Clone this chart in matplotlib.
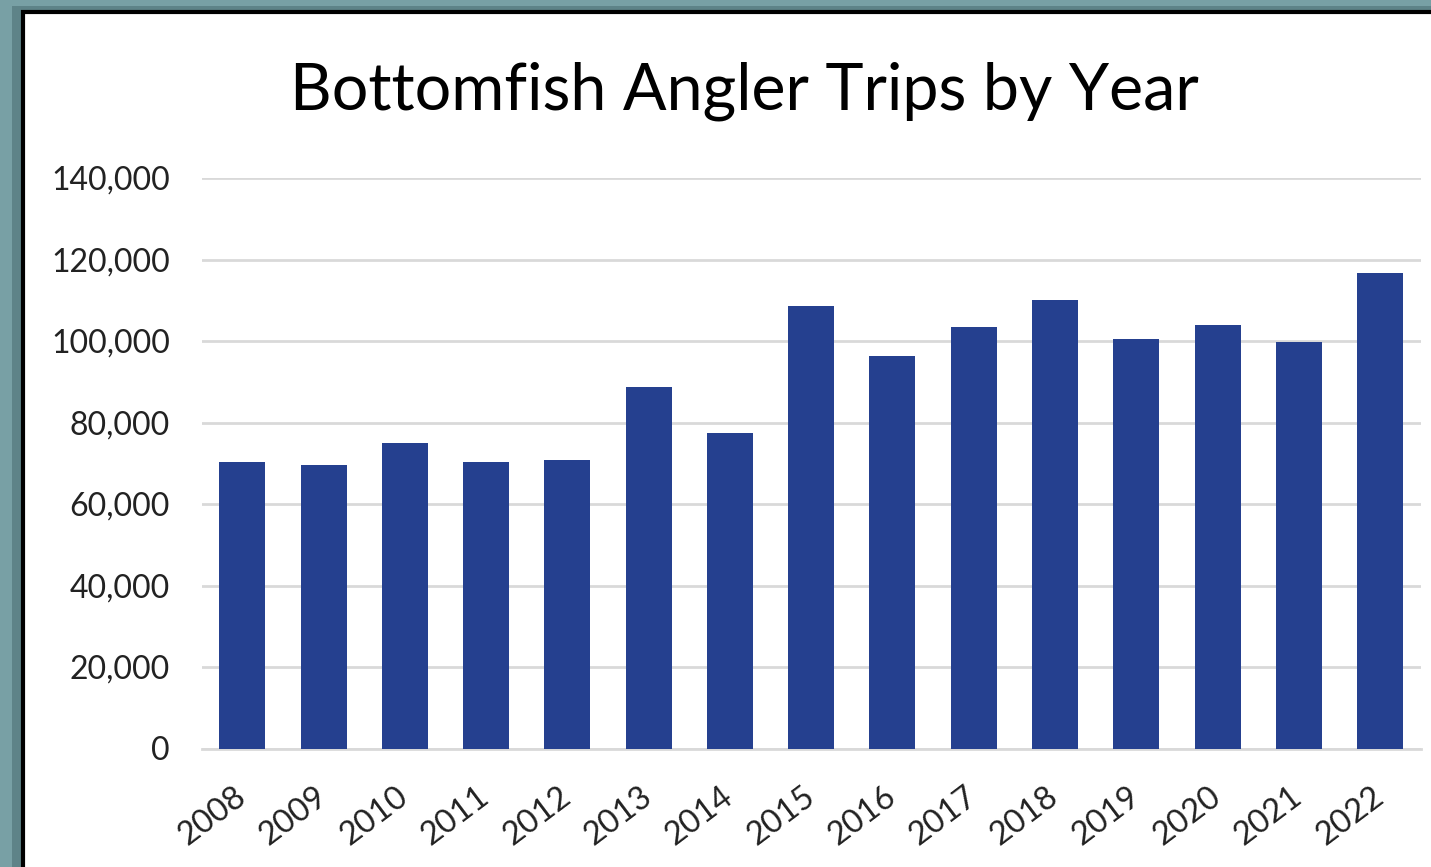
import matplotlib
matplotlib.use("Agg")
import matplotlib.pyplot as plt
from matplotlib.patches import Rectangle
from matplotlib.ticker import FuncFormatter, MultipleLocator

years = ["2008", "2009", "2010", "2011", "2012", "2013", "2014", "2015",
         "2016", "2017", "2018", "2019", "2020", "2021", "2022"]
trips = [70300, 69500, 75000, 70300, 70800, 88600, 77400, 108600,
         96300, 103400, 110100, 100600, 103900, 99700, 116700]

title = "Bottomfish Angler Trips by Year"
bar_color = "#25408f"
grid_color = "#d9d9d9"

W, H = 1431, 867
plt.rcParams['font.family'] = ['Lato', 'DejaVu Sans']
fig = plt.figure(figsize=(W / 100, H / 100), dpi=100)
fig.patch.set_facecolor("#78a0a5")

# darker inner band of the surrounding frame
fig.patches.append(Rectangle((12 / W, 0), 10 / W, 1 - 8 / H, transform=fig.transFigure,
                             facecolor="#5e8388", edgecolor="none", zorder=0))
fig.patches.append(Rectangle((12 / W, 1 - 12 / H), 1, 6 / H, transform=fig.transFigure,
                             facecolor="#5e8388", edgecolor="none", zorder=0))
# white chart panel with black border
fig.patches.append(Rectangle((23 / W, -0.05), 1.1, 1 - 12 / H + 0.05, transform=fig.transFigure,
                             facecolor="white", edgecolor="black", linewidth=3, zorder=1))

ax = fig.add_axes([201.7 / W, 1 - 748.5 / H, 1219 / W, (748.5 - 178) / H])
ax.set_zorder(5)
ax.set_facecolor("none")
x = range(len(years))
ax.bar(x, trips, width=0.566, color=bar_color, zorder=3)
ax.set_xlim(-0.5, len(years) - 0.5)
ax.set_ylim(0, 140000)
ax.yaxis.set_major_locator(MultipleLocator(20000))
ax.yaxis.set_major_formatter(FuncFormatter(lambda v, p: f"{int(v):,}"))
ax.grid(axis="y", color=grid_color, linewidth=2, zorder=0)
ax.set_axisbelow(True)
for s in ["top", "right", "left"]:
    ax.spines[s].set_visible(False)
ax.spines["bottom"].set_color(grid_color)
ax.spines["bottom"].set_linewidth(2)
ax.tick_params(axis="both", length=0, labelsize=23, colors="#222222")
ax.tick_params(axis="y", pad=23)
ax.set_xticks(list(x))
ax.set_xticklabels(years, fontsize=23.5)
for lab in ax.get_xticklabels():
    lab.set_rotation(37)
    lab.set_ha("right")
    lab.set_va("center")
    lab.set_rotation_mode("anchor")
ax.tick_params(axis="x", pad=32)

fig.text(744 / W, 1 - 91 / H, title, ha="center", va="center", fontsize=46.5,
         color="black", zorder=6)

fig.savefig("out.png", dpi=100, facecolor=fig.get_facecolor())
